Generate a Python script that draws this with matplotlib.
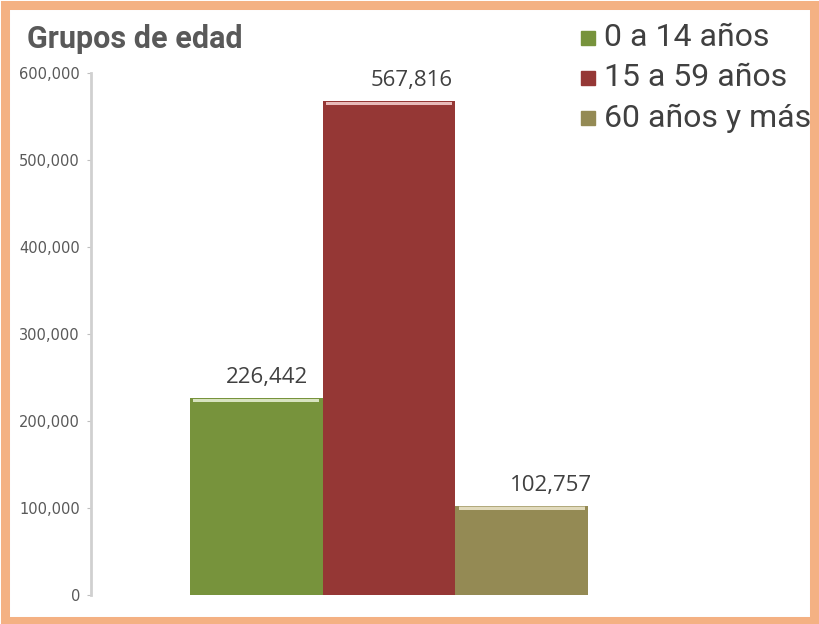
import matplotlib.pyplot as plt
from matplotlib.patches import Rectangle

# Datos
grupos = ["0 a 14 años", "15 a 59 años", "60 años y más"]
poblacion = [226442, 567816, 102757]
colores = ["#77933C", "#953735", "#948A54"]
brillos = ["#E4EDCF", "#F2C9C8", "#EAE4C8"]
yticks = [0, 100000, 200000, 300000, 400000, 500000, 600000]

W, H = 819, 624
fig = plt.figure(figsize=(W / 100, H / 100), dpi=100)

# marco naranja
fig.patches.append(Rectangle((5 / W, 3 / H), 809 / W, 616 / H, transform=fig.transFigure,
                             fill=False, edgecolor="#F4B183", linewidth=6.5))

ax = fig.add_axes([91 / W, 29 / H, 596 / W, 522 / H])
x = range(len(grupos))
ax.bar(x, poblacion, width=1.0, color=colores, edgecolor="none")
# reflejo en la parte superior de cada barra
for i, v in enumerate(poblacion):
    ax.bar(i, 3500, width=0.95, bottom=v - 4500, color=brillos[i], edgecolor="none", alpha=0.9)
    ax.bar(i, 1200, width=1.0, bottom=v - 1200, color=colores[i], edgecolor="none", alpha=0.6)

offsets = [0.08, 0.17, 0.22]
for i, v in enumerate(poblacion):
    ax.text(i + offsets[i], v + 11000, f"{v:,}", ha="center", va="bottom",
            fontsize=16, color="#404040", family="Open Sans")

ax.set_xlim(-1.244, 3.244)
ax.set_ylim(0, 600000)
ax.set_yticks(yticks)
ax.set_yticklabels([f"{t:,}" for t in yticks], fontsize=10.5, color="#595959", family="DejaVu Sans")
ax.tick_params(axis="y", length=3, color="#BFBFBF", pad=5)
ax.set_xticks([])
for s in ["top", "right", "bottom"]:
    ax.spines[s].set_visible(False)
ax.spines["left"].set_color("#D0D0D0")
ax.spines["left"].set_linewidth(2)

fig.text(27 / W, 1 - 39 / H, "Grupos de edad", fontsize=22, fontweight="bold",
         color="#595959", family="Roboto", va="center", ha="left")

for i, g in enumerate(grupos):
    yy = 1 - (38 + 40 * i) / H
    fig.patches.append(Rectangle((581 / W, yy - 7 / H), 14 / W, 14 / H, transform=fig.transFigure,
                                 color=colores[i]))
    fig.text(604 / W, yy, g, fontsize=23, color="#404040", family="Roboto",
             va="center", ha="left")

fig.savefig("out.png", dpi=100)
